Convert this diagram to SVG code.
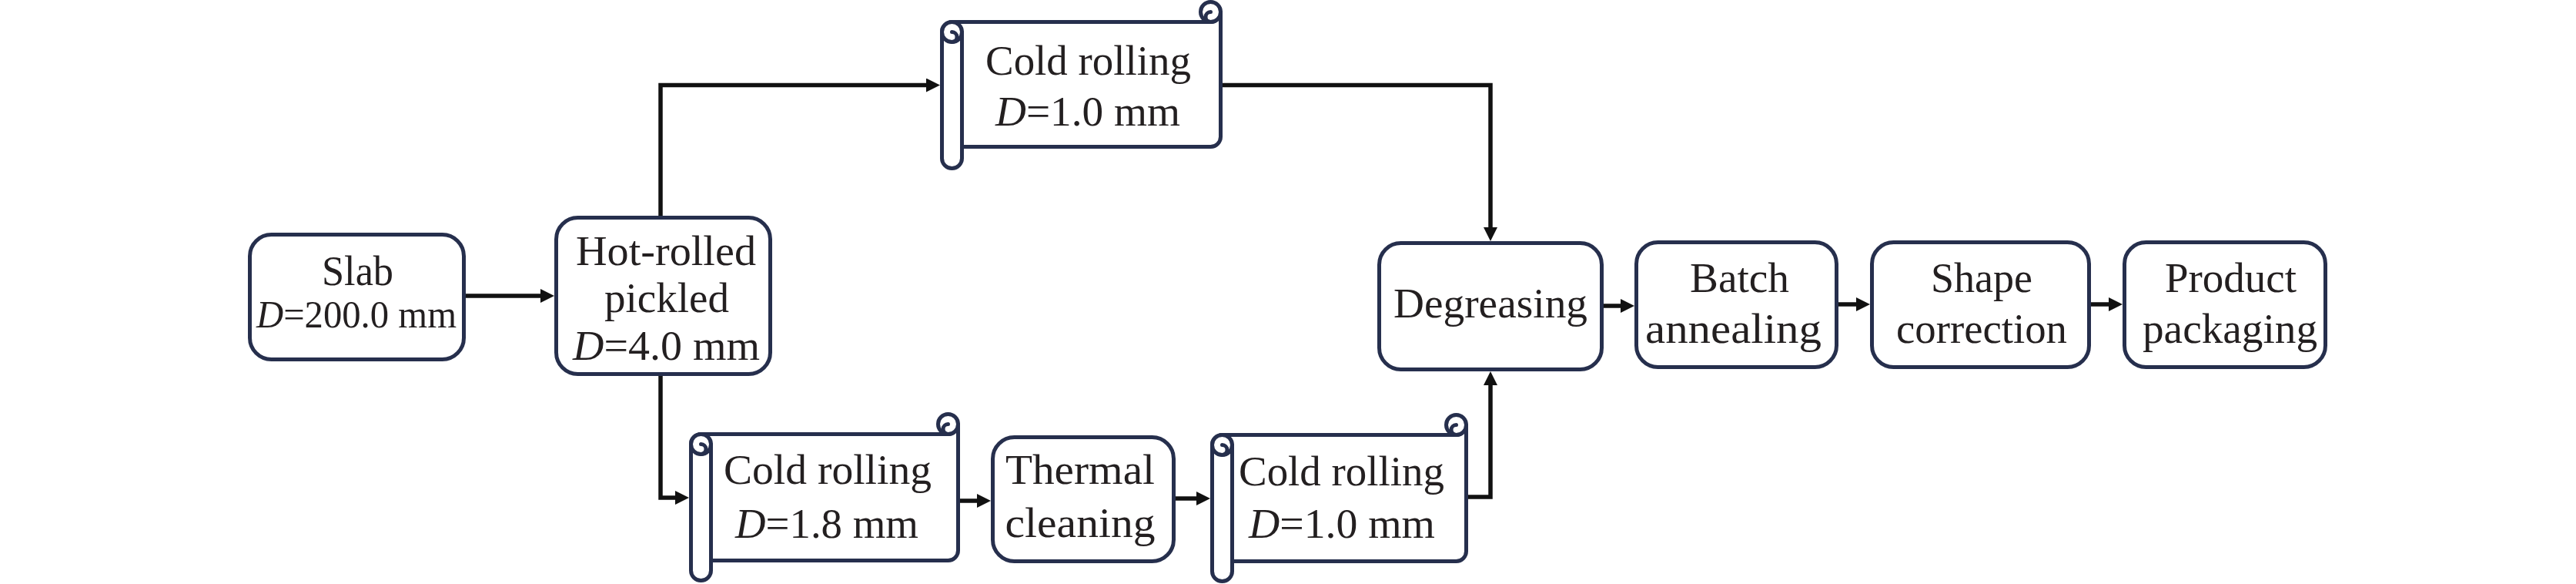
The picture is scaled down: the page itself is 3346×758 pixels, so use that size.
<svg xmlns="http://www.w3.org/2000/svg" width="3346" height="758" viewBox="0 0 3346 758">
<defs>
<style>
.box{fill:#ffffff;stroke:#262f4d;stroke-width:5}
.sc{fill:#ffffff;stroke:#262f4d;stroke-width:5;stroke-linejoin:round}
.scl{fill:none;stroke:#262f4d;stroke-width:5;stroke-linecap:round}
.t{font-family:"Liberation Serif","Times New Roman",serif;font-size:55px;fill:#231f20}
.i{font-style:italic}
.c{fill:none;stroke:#111111;stroke-width:5.5;stroke-linejoin:miter}
</style>
<marker id="ah" markerUnits="userSpaceOnUse" markerWidth="18" markerHeight="18" refX="10" refY="9" orient="auto">
<path d="M0,0 L18,9 L0,18 Z" fill="#111111"/>
</marker>
</defs>
<rect width="3346" height="758" fill="#ffffff"/>

<g id="connectors">
<path class="c" d="M605 384 H712" marker-end="url(#ah)"/>
<path class="c" d="M858 281 V110.5 H1213" marker-end="url(#ah)"/>
<path class="c" d="M858 487 V646 H887" marker-end="url(#ah)"/>
<path class="c" d="M1247 650 H1279" marker-end="url(#ah)"/>
<path class="c" d="M1527 647 H1564" marker-end="url(#ah)"/>
<path class="c" d="M1588 110.5 H1936 V305" marker-end="url(#ah)"/>
<path class="c" d="M1907 645 H1936 V490" marker-end="url(#ah)"/>
<path class="c" d="M2083 397 H2115" marker-end="url(#ah)"/>
<path class="c" d="M2388 395 H2421" marker-end="url(#ah)"/>
<path class="c" d="M2716 395 H2749" marker-end="url(#ah)"/>
</g>

<g id="slab">
<rect class="box" x="324.5" y="304.5" width="278" height="162" rx="28"/>
<text class="t" x="418" y="370" textLength="93" lengthAdjust="spacingAndGlyphs">Slab</text>
<text class="t" x="333" y="425" style="font-size:50px" textLength="260" lengthAdjust="spacingAndGlyphs"><tspan class="i">D</tspan>=200.0 mm</text>
</g>

<g id="hot-rolled">
<rect class="box" x="722.5" y="282.5" width="278" height="203" rx="28"/>
<text class="t" x="748" y="344" textLength="234" lengthAdjust="spacingAndGlyphs">Hot-rolled</text>
<text class="t" x="785" y="405" textLength="162" lengthAdjust="spacingAndGlyphs">pickled</text>
<text class="t" x="744" y="467" textLength="243" lengthAdjust="spacingAndGlyphs"><tspan class="i">D</tspan>=4.0 mm</text>
</g>

<g id="cold-rolling-1">
<path class="sc" d="M1223.5 41.5 A13 13 0 0 1 1236.5 28.5 H1572.5 A13 13 0 0 0 1585.5 15.5 V177.5 A13 13 0 0 1 1572.5 190.5 H1249.5 V205.5 A13 13 0 0 1 1223.5 205.5 Z"/>
<path class="scl" d="M1249.5 41.5 V190.5"/>
<circle class="sc" cx="1236.5" cy="41.5" r="13"/>
<path class="scl" d="M1236.5 41.5 A6.5 6.5 0 0 1 1236.5 54.5"/>
<circle class="sc" cx="1572.5" cy="15.5" r="13"/>
<path class="scl" d="M1572.5 15.5 A6.5 6.5 0 0 0 1572.5 28.5"/>
<text class="t" x="1280" y="97" textLength="267" lengthAdjust="spacingAndGlyphs">Cold rolling</text>
<text class="t" x="1293" y="163" textLength="240" lengthAdjust="spacingAndGlyphs"><tspan class="i">D</tspan>=1.0 mm</text>
</g>

<g id="cold-rolling-2">
<path class="sc" d="M897.5 576.5 A13 13 0 0 1 910.5 563.5 H1231.5 A13 13 0 0 0 1244.5 550.5 V714.5 A13 13 0 0 1 1231.5 727.5 H923.5 V740.5 A13 13 0 0 1 897.5 740.5 Z"/>
<path class="scl" d="M923.5 576.5 V727.5"/>
<circle class="sc" cx="910.5" cy="576.5" r="13"/>
<path class="scl" d="M910.5 576.5 A6.5 6.5 0 0 1 910.5 589.5"/>
<circle class="sc" cx="1231.5" cy="550.5" r="13"/>
<path class="scl" d="M1231.5 550.5 A6.5 6.5 0 0 0 1231.5 563.5"/>
<text class="t" x="940" y="628" textLength="270" lengthAdjust="spacingAndGlyphs">Cold rolling</text>
<text class="t" x="955" y="698" textLength="238" lengthAdjust="spacingAndGlyphs"><tspan class="i">D</tspan>=1.8 mm</text>
</g>

<g id="thermal-cleaning">
<rect class="box" x="1289.5" y="567.5" width="235" height="161" rx="28"/>
<text class="t" x="1306" y="628" textLength="194" lengthAdjust="spacingAndGlyphs">Thermal</text>
<text class="t" x="1305.5" y="697" textLength="195" lengthAdjust="spacingAndGlyphs">cleaning</text>
</g>

<g id="cold-rolling-3">
<path class="sc" d="M1574.5 577.5 A13 13 0 0 1 1587.5 564.5 H1891.5 A13 13 0 0 0 1904.5 551.5 V715.5 A13 13 0 0 1 1891.5 728.5 H1600.5 V741.5 A13 13 0 0 1 1574.5 741.5 Z"/>
<path class="scl" d="M1600.5 577.5 V728.5"/>
<circle class="sc" cx="1587.5" cy="577.5" r="13"/>
<path class="scl" d="M1587.5 577.5 A6.5 6.5 0 0 1 1587.5 590.5"/>
<circle class="sc" cx="1891.5" cy="551.5" r="13"/>
<path class="scl" d="M1891.5 551.5 A6.5 6.5 0 0 0 1891.5 564.5"/>
<text class="t" x="1609" y="630" textLength="267" lengthAdjust="spacingAndGlyphs">Cold rolling</text>
<text class="t" x="1622" y="698" textLength="242" lengthAdjust="spacingAndGlyphs"><tspan class="i">D</tspan>=1.0 mm</text>
</g>

<g id="degreasing">
<rect class="box" x="1791.5" y="315.5" width="289" height="164" rx="28"/>
<text class="t" x="1810" y="412" textLength="252" lengthAdjust="spacingAndGlyphs">Degreasing</text>
</g>

<g id="batch-annealing">
<rect class="box" x="2125.5" y="314.5" width="260" height="162" rx="28"/>
<text class="t" x="2195" y="379" textLength="129" lengthAdjust="spacingAndGlyphs">Batch</text>
<text class="t" x="2137" y="445" textLength="229" lengthAdjust="spacingAndGlyphs">annealing</text>
</g>

<g id="shape-correction">
<rect class="box" x="2431.5" y="314.5" width="282" height="162" rx="28"/>
<text class="t" x="2508" y="379" textLength="132" lengthAdjust="spacingAndGlyphs">Shape</text>
<text class="t" x="2463" y="445" textLength="222" lengthAdjust="spacingAndGlyphs">correction</text>
</g>

<g id="product-packaging">
<rect class="box" x="2759.5" y="314.5" width="261" height="162" rx="28"/>
<text class="t" x="2812" y="379" textLength="171" lengthAdjust="spacingAndGlyphs">Product</text>
<text class="t" x="2783" y="445" textLength="227" lengthAdjust="spacingAndGlyphs">packaging</text>
</g>
</svg>
